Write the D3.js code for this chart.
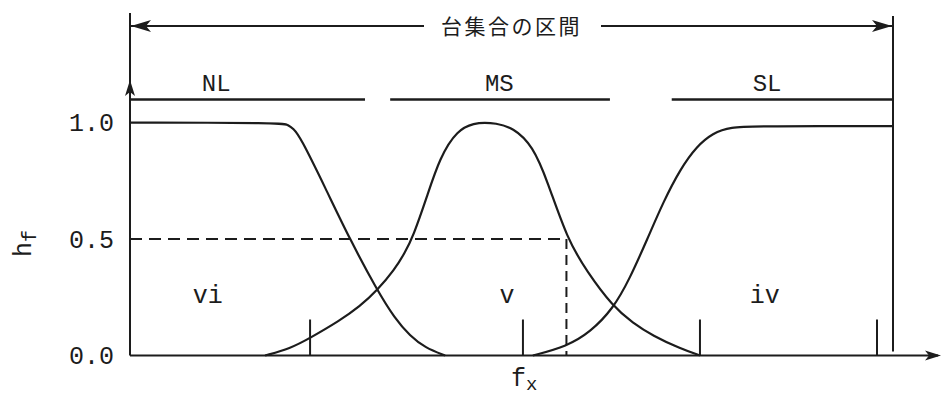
<!DOCTYPE html>
<html><head><meta charset="utf-8">
<script src="https://cdn.jsdelivr.net/npm/d3@7"></script>
<style>html,body{margin:0;padding:0;background:#fff;} svg{display:block;}</style>
</head><body><svg id="c" width="942" height="396"></svg>
<script>
// ---- data ----
const yTickValues = [0.0, 0.5, 1.0];
const nlX = [0, 20.05, 20.7, 21.4, 22.3, 25.6, 28.8, 32.4, 34.7, 36.7, 38.7, 41.3];
const nlY = [1, 1, 0.99, 0.975, 0.94, 0.72, 0.5, 0.28, 0.16, 0.084, 0.033, 0];
const msX = [17.7, 21.0, 23.6, 27.5, 30.1, 32.4, 34.7, 36.0, 37.1, 38.9, 40.6, 42.9, 45.2, 46.5, 47.8, 50.2, 52.8, 54.7, 57.3, 59.9, 63.3, 65.9, 68.5, 72.1, 74.7];
const msY = [0, 0.03, 0.075, 0.15, 0.21, 0.28, 0.37, 0.44, 0.51, 0.68, 0.85, 0.97, 0.998, 1.0, 0.998, 0.98, 0.9, 0.75, 0.5, 0.36, 0.21, 0.14, 0.085, 0.03, 0];
const slX = [52.8, 57.3, 60.3, 63.3, 65.5, 67.8, 69.9, 72.1, 74.3, 76.4, 78.6, 82.6, 100];
const slY = [0, 0.04, 0.1, 0.2, 0.33, 0.5, 0.66, 0.8, 0.9, 0.955, 0.982, 0.985, 0.985];
const setNames = ["NL", "MS", "SL"];
const setStart = [0, 34.1, 71.0];
const setEnd = [30.8, 62.9, 100];
const setLabelX = [11.3, 48.4, 83.5];
const regionNames = ["vi", "v", "iv"];
const regionX = [10.2, 49.4, 83.2];
const baseTicks = [23.6, 51.5, 74.7, 97.9];
const cutLevel = 0.5;
const cutX = 57.2;
const intervalLabel = "台集合の区間";
const intervalStart = 0, intervalEnd = 100;
const yLabel = ["h", "f"];
const xLabel = ["f", "x"];

// ---- layout ----
const svg = d3.select("#c");
const ink = "#1c1c1c";
const mono = "'Liberation Mono', 'DejaVu Sans Mono', monospace";
const x = d3.scaleLinear().domain([0, 100]).range([130, 893]);
const y = d3.scaleLinear().domain([0, 1]).range([355.5, 122.7]);

// y axis tick labels
const yAxis = d3.axisLeft(y).tickValues(yTickValues).tickFormat(d3.format(".1f")).tickSize(0).tickPadding(16);
const gy = svg.append("g").attr("transform", `translate(${x(0)},0)`).call(yAxis);
gy.select(".domain").remove();
gy.selectAll("text").attr("font-family", mono).attr("font-size", 25).attr("fill", ink);

// axes lines
svg.append("line").attr("x1", x(0)).attr("x2", x(0)).attr("y1", 13).attr("y2", y(0))
  .attr("stroke", ink).attr("stroke-width", 2);
svg.append("line").attr("x1", x(0)).attr("x2", 938).attr("y1", y(0)).attr("y2", y(0))
  .attr("stroke", ink).attr("stroke-width", 2);
svg.append("line").attr("x1", x(100)).attr("x2", x(100)).attr("y1", 16).attr("y2", y(0) - 4)
  .attr("stroke", ink).attr("stroke-width", 2);
// y axis arrowhead
svg.append("path").attr("d", `M${x(0)},80 L${x(0)-5},96 L${x(0)},92 L${x(0)+5},96 Z`).attr("fill", ink);
// x axis arrowhead
svg.append("path").attr("d", `M941,${y(0)} L925,${y(0)-5} L929,${y(0)} L925,${y(0)+5} Z`).attr("fill", ink);

// interval arrow at top
const topY = 26;
svg.append("line").attr("x1", x(intervalStart)).attr("x2", 424).attr("y1", topY).attr("y2", topY)
  .attr("stroke", ink).attr("stroke-width", 1.8);
svg.append("line").attr("x1", 601).attr("x2", x(intervalEnd)).attr("y1", topY).attr("y2", topY)
  .attr("stroke", ink).attr("stroke-width", 1.8);
const xs = x(intervalStart), xe = x(intervalEnd);
svg.append("path").attr("d", `M${xs+1},${topY} L${xs+21},${topY-6} L${xs+16},${topY} L${xs+21},${topY+6} Z`).attr("fill", ink);
svg.append("path").attr("d", `M${xe-1},${topY} L${xe-21},${topY-6} L${xe-16},${topY} L${xe-21},${topY+6} Z`).attr("fill", ink);
svg.append("text").attr("x", (x(intervalStart) + x(intervalEnd)) / 2).attr("y", topY + 8)
  .attr("text-anchor", "middle").attr("font-family", "'Noto Sans CJK JP', sans-serif")
  .attr("font-size", 21).attr("letter-spacing", 2.5).attr("fill", ink).text(intervalLabel);

// support set bars
setNames.forEach((n, i) => {
  svg.append("line").attr("x1", x(setStart[i])).attr("x2", x(setEnd[i]))
    .attr("y1", y(1.1)).attr("y2", y(1.1)).attr("stroke", ink).attr("stroke-width", 2.5);
  svg.append("text").attr("x", x(setLabelX[i])).attr("y", y(1.1) - 8).attr("text-anchor", "middle")
    .attr("font-family", mono).attr("font-size", 24).attr("fill", ink).text(n);
});

// membership curves
const line = d3.line().x(d => x(d[0])).y(d => y(d[1])).curve(d3.curveBasis);
[[nlX, nlY], [msX, msY], [slX, slY]].forEach(([xa, ya]) => {
  svg.append("path").datum(xa.map((v, i) => [v, ya[i]])).attr("d", line)
    .attr("fill", "none").attr("stroke", ink).attr("stroke-width", 2.2);
});

// base ticks
svg.selectAll(".bt").data(baseTicks).join("line").attr("class", "bt")
  .attr("x1", d => x(d)).attr("x2", d => x(d)).attr("y1", y(0)).attr("y2", y(0) - 36)
  .attr("stroke", ink).attr("stroke-width", 2);

// dashed cut lines
svg.append("line").attr("x1", x(0)).attr("x2", x(cutX)).attr("y1", y(cutLevel)).attr("y2", y(cutLevel))
  .attr("stroke", ink).attr("stroke-width", 2).attr("stroke-dasharray", "12,7");
svg.append("line").attr("x1", x(cutX)).attr("x2", x(cutX)).attr("y1", y(cutLevel)).attr("y2", y(0))
  .attr("stroke", ink).attr("stroke-width", 2).attr("stroke-dasharray", "10,6");

// region labels
regionNames.forEach((n, i) => {
  svg.append("text").attr("x", x(regionX[i])).attr("y", y(0.225)).attr("text-anchor", "middle")
    .attr("font-family", mono).attr("font-size", 25).attr("fill", ink).text(n);
});

// axis labels
const yl = svg.append("text").attr("transform", "translate(31,257) rotate(-90)")
  .attr("font-family", mono).attr("font-size", 25).attr("fill", ink);
yl.append("tspan").text(yLabel[0]);
yl.append("tspan").attr("dy", 5).attr("font-size", 20).text(yLabel[1]);

const xl = svg.append("text").attr("x", 511).attr("y", 386)
  .attr("font-family", mono).attr("font-size", 25).attr("fill", ink);
xl.append("tspan").text(xLabel[0]);
xl.append("tspan").attr("dy", 4).attr("font-size", 19).text(xLabel[1]);
</script></body></html>
